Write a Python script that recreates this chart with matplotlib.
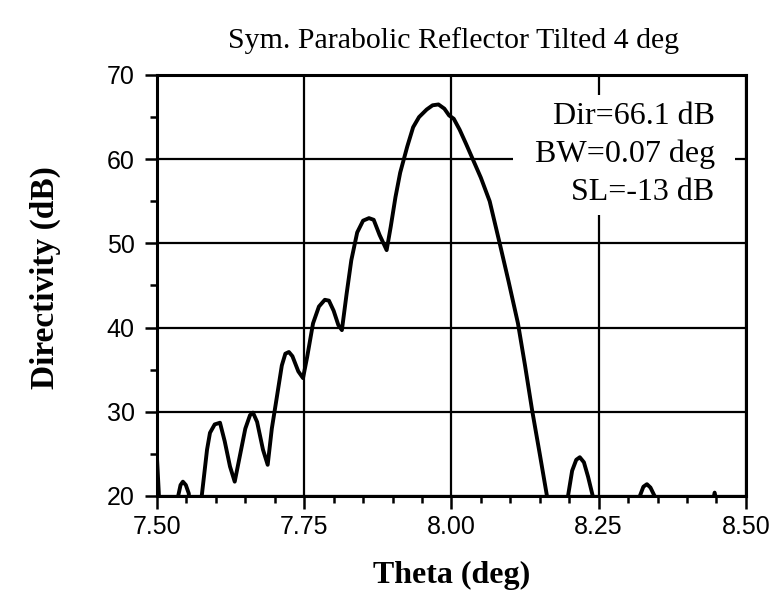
import matplotlib
matplotlib.use("Agg")
import matplotlib.pyplot as plt
import numpy as np
from matplotlib.patches import Rectangle

# directivity pattern (values below 20 dB fall outside the frame)
theta = [7.500, 7.503, 7.506, 7.530, 7.536, 7.540, 7.544, 7.549, 7.554, 7.558,
         7.572, 7.576, 7.585, 7.590, 7.598, 7.607, 7.615, 7.624, 7.632, 7.640,
         7.650, 7.658, 7.663, 7.670, 7.680, 7.688, 7.695, 7.703, 7.712, 7.718,
         7.724, 7.730, 7.740, 7.748, 7.755, 7.765, 7.775, 7.785, 7.792, 7.800,
         7.808, 7.814, 7.822, 7.830, 7.840, 7.850, 7.860, 7.868, 7.878, 7.890,
         7.897, 7.905, 7.913, 7.925, 7.935, 7.945, 7.958, 7.968, 7.978, 7.988,
         7.996, 8.004, 8.014, 8.025, 8.035, 8.050, 8.065, 8.082, 8.097, 8.113,
         8.125, 8.137, 8.150, 8.162, 8.170, 8.190, 8.198, 8.205, 8.212, 8.218,
         8.225, 8.232, 8.240, 8.246, 8.310, 8.320, 8.326, 8.332, 8.338, 8.345,
         8.352, 8.440, 8.447, 8.454, 8.500]
directivity = [24.5, 20.5, 15.0, 15.0, 20.0, 21.3, 21.7, 21.3, 20.3, 15.0,
               15.0, 20.0, 25.5, 27.5, 28.5, 28.7, 26.5, 23.5, 21.7, 24.5,
               28.0, 29.6, 29.9, 28.8, 25.5, 23.7, 28.0, 31.5, 35.5, 36.9,
               37.1, 36.6, 34.8, 34.0, 36.5, 40.5, 42.5, 43.3, 43.2, 42.0,
               40.3, 39.7, 44.0, 48.0, 51.3, 52.7, 53.0, 52.8, 51.0, 49.2,
               52.0, 55.5, 58.4, 61.5, 63.8, 65.0, 65.9, 66.4, 66.5, 66.0,
               65.2, 64.8, 63.5, 61.8, 60.2, 57.8, 55.0, 50.0, 45.5, 40.5,
               35.5, 30.2, 25.0, 20.1, 16.0, 16.0, 20.0, 23.0, 24.3, 24.6,
               24.0, 22.3, 20.0, 16.0, 16.0, 20.0, 21.1, 21.4, 21.0, 20.0,
               16.0, 18.0, 20.4, 18.0, 15.0]

x_ticks = [7.50, 7.75, 8.00, 8.25, 8.50]
x_ticklabels = ["7.50", "7.75", "8.00", "8.25", "8.50"]
y_ticks = [20, 30, 40, 50, 60, 70]
summary_lines = ["Dir=66.1 dB", "BW=0.07 deg", "SL=-13 dB"]

serif = "Liberation Serif"
sans = "Liberation Sans"

fig = plt.figure(figsize=(7.81, 5.98), dpi=100)
ax = fig.add_axes([0.201, 0.1706, 0.754, 0.704])

ax.plot(theta, directivity, color="black", lw=2.8, zorder=4, solid_joinstyle="round")

ax.set_xlim(7.5, 8.5)
ax.set_ylim(20, 70)
ax.set_xticks(x_ticks)
ax.set_xticklabels(x_ticklabels)
ax.set_yticks(y_ticks)
ax.set_xticks(np.arange(7.5, 8.5001, 0.05), minor=True)
ax.set_yticks(np.arange(20, 70.001, 5), minor=True)
ax.grid(True, which="major", color="black", lw=1.6)
ax.tick_params(which="major", direction="out", length=9, width=1.8, pad=5)
ax.tick_params(which="minor", direction="out", length=5, width=1.8)
ax.tick_params(axis="y", pad=7)
for lab in ax.get_xticklabels() + ax.get_yticklabels():
    lab.set_fontfamily(sans)
    lab.set_fontsize(18)
for sp in ax.spines.values():
    sp.set_linewidth(2.2)

# white patch behind the summary text (breaks the grid lines as in the original)
ax.add_patch(Rectangle((0.604, 0.667), 0.377, 0.285, transform=ax.transAxes,
                       facecolor="white", edgecolor="none", zorder=3))
ax.text(0.947, 0.935, "\n".join(summary_lines), transform=ax.transAxes,
        ha="right", va="top", multialignment="right", family=serif,
        fontsize=23, linespacing=1.38, zorder=5)

fig.text(0.581, 0.932, "Sym. Parabolic Reflector Tilted 4 deg", ha="center",
         va="center", family=serif, fontsize=21.5)
ax.set_xlabel("Theta (deg)", family=serif, fontsize=23, fontweight="bold")
ax.set_ylabel("Directivity (dB)", family=serif, fontsize=24, fontweight="bold")
ax.xaxis.set_label_coords(0.500, -0.155)
ax.yaxis.set_label_coords(-0.163, 0.52)

fig.savefig("out.png", dpi=100)
